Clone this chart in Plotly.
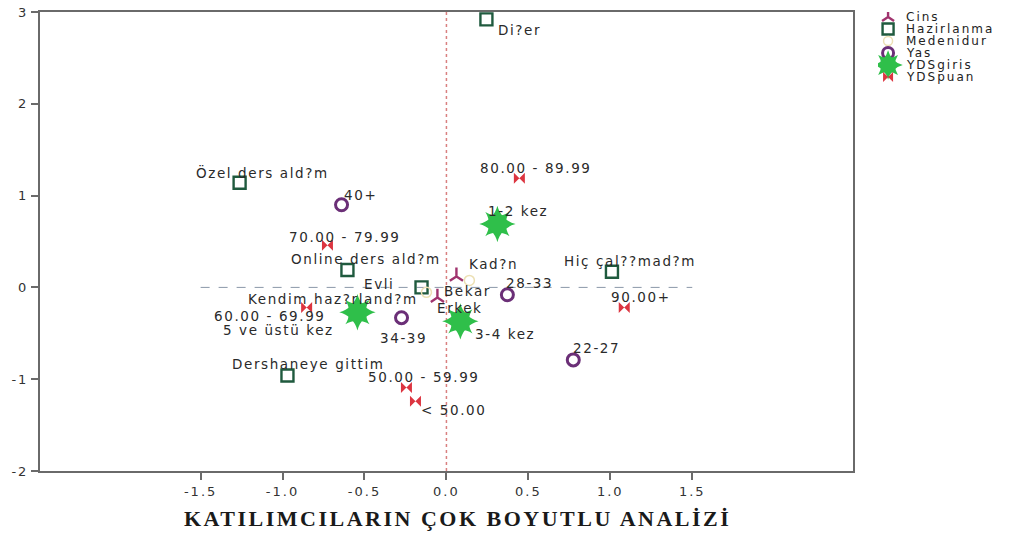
import plotly.graph_objects as go

# ---- data ----
cins_labels = ["Kad?n", "Erkek"]
cins_x = [0.061, -0.055]
cins_y = [0.12, -0.11]

haz_labels = ["Di?er", "Özel ders ald?m", "Online ders ald?m", "Kendim haz?rland?m",
              "Dershaneye gittim", "Hiç çal??mad?m"]
haz_x = [0.244, -1.262, -0.604, -0.152, -0.970, 1.010]
haz_y = [2.92, 1.14, 0.19, 0.0, -0.96, 0.17]

med_labels = ["Evli", "Bekar"]
med_x = [-0.122, 0.140]
med_y = [-0.054, 0.076]

yas_labels = ["40+", "28-33", "34-39", "22-27"]
yas_x = [-0.640, 0.372, -0.274, 0.774]
yas_y = [0.90, -0.08, -0.33, -0.79]

ydsg_labels = ["1-2 kez", "5 ve üstü kez", "3-4 kez"]
ydsg_x = [0.311, -0.543, 0.085]
ydsg_y = [0.69, -0.27, -0.37]

ydsp_labels = ["80.00 - 89.99", "70.00 - 79.99", "60.00 - 69.99", "90.00+",
               "50.00 - 59.99", "< 50.00"]
ydsp_x = [0.445, -0.726, -0.853, 1.085, -0.244, -0.189]
ydsp_y = [1.19, 0.46, -0.22, -0.22, -1.09, -1.24]

legend_names = ["Cins", "Hazirlanma", "Medenidur", "Yas", "YDSgiris", "YDSpuan"]

x_ticks = [-1.5, -1.0, -0.5, 0.0, 0.5, 1.0, 1.5]
x_ticklabels = ["-1.5", "-1.0", "-0.5", "0.0", "0.5", "1.0", "1.5"]
y_ticks = [-2, -1, 0, 1, 2, 3]
y_ticklabels = ["-2", "-1", "0", "1", "2", "3"]

title_text = "KATILIMCILARIN ÇOK BOYUTLU ANALİZİ"

# label placement relative to its point, in pixels: (xshift, yshift, xanchor)
label_offsets = {
    "Di?er": (10, -11, "left"),
    "Özel ders ald?m": (23, 10, "center"),
    "Online ders ald?m": (19, 11, "center"),
    "Kendim haz?rland?m": (-2, -12, "right"),
    "Dershaneye gittim": (21, 12, "center"),
    "Hiç çal??mad?m": (18, 11, "center"),
    "Kad?n": (11, 12, "left"),
    "Erkek": (-2, -10, "left"),
    "Evli": (-30, 8, "right"),
    "Bekar": (-27, -11, "left"),
    "40+": (19, 10, "center"),
    "28-33": (-3, 12, "left"),
    "34-39": (2, -20, "center"),
    "22-27": (23, 12, "center"),
    "1-2 kez": (21, 13, "center"),
    "5 ve üstü kez": (-79, -18, "center"),
    "3-4 kez": (45, -13, "center"),
    "80.00 - 89.99": (17, 10, "center"),
    "70.00 - 79.99": (18, 8, "center"),
    "60.00 - 69.99": (-37, -8, "center"),
    "90.00+": (17, 11, "center"),
    "50.00 - 59.99": (18, 10, "center"),
    "< 50.00": (38, -9, "center"),
}

FONT = "DejaVu Sans"


def spaced(txt, px):
    return '<span style="letter-spacing:%spx">%s</span>' % (px, txt.replace("<", "&lt;"))


sty_cins = dict(symbol="y-up", size=11, color="#a0336e", line=dict(width=2.4, color="#a0336e"))
sty_haz = dict(symbol="square-open", size=12, color="#1f5a3e", line=dict(width=2.4, color="#1f5a3e"))
sty_med = dict(symbol="circle-open", size=10, color="#ece0b4", line=dict(width=1.5, color="#ece0b4"))
sty_yas = dict(symbol="circle-open", size=12, color="#6b2f77", line=dict(width=3, color="#6b2f77"))
sty_star1 = dict(symbol="star-square", size=22, color="#2fbf4a", line=dict(width=0))
sty_star2 = dict(symbol="star-diamond", size=26, color="#2fbf4a", line=dict(width=0))
sty_bow = dict(symbol="bowtie", size=11, color="#dc3540", line=dict(width=0))

fig = go.Figure()
sets = [
    (cins_x, cins_y, cins_labels, [sty_cins]),
    (haz_x, haz_y, haz_labels, [sty_haz]),
    (med_x, med_y, med_labels, [sty_med]),
    (yas_x, yas_y, yas_labels, [sty_yas]),
    (ydsg_x, ydsg_y, ydsg_labels, [sty_star1, sty_star2]),
    (ydsp_x, ydsp_y, ydsp_labels, [sty_bow]),
]
for (xs, ys, labs, stys), name in zip(sets, legend_names):
    for st in stys:
        fig.add_trace(go.Scatter(x=xs, y=ys, mode="markers", name=name, marker=st,
                                 text=labs, hoverinfo="text", showlegend=False,
                                 xaxis="x", yaxis="y"))
    for xv, yv, lab in zip(xs, ys, labs):
        dx, dy, anc = label_offsets.get(lab, (0, 10, "center"))
        fig.add_annotation(x=xv, y=yv, xref="x", yref="y", text=spaced(lab, 1.6),
                           showarrow=False,
                           xshift=dx, yshift=dy, xanchor=anc, yanchor="middle",
                           font=dict(family=FONT, size=13.5, color="#2a2a2a"))

# compact legend drawn on its own small axes (one row per category index)
leg_styles = [[dict(sty_cins, size=10)], [dict(sty_haz, size=11)], [dict(sty_med, size=9)],
              [dict(sty_yas, size=11)],
              [dict(sty_star1, size=18), dict(sty_star2, size=21)], [dict(sty_bow, size=10)]]
for i, (name, stys) in enumerate(zip(legend_names, leg_styles)):
    for st in stys:
        fig.add_trace(go.Scatter(x=[10], y=[i], mode="markers", marker=st,
                                 showlegend=False, hoverinfo="skip",
                                 xaxis="x2", yaxis="y2"))
    fig.add_annotation(x=26, y=i, xref="x2", yref="y2", text=spaced(name, 2), showarrow=False,
                       xanchor="left", yanchor="middle",
                       font=dict(family=FONT, size=12, color="#222"))

# reference lines through the origin
fig.add_shape(type="line", xref="x", yref="y domain", x0=0, x1=0, y0=0, y1=1,
              line=dict(color="#d98080", width=1.5, dash="dot"), layer="below")
fig.add_shape(type="line", xref="x", yref="y", x0=x_ticks[0], x1=x_ticks[-1], y0=0, y1=0,
              line=dict(color="#8a97a8", width=1, dash="dash"), layer="below")

fig.add_annotation(xref="paper", yref="paper", x=0.43, y=-0.103,
                   text="<b>" + spaced(title_text, 2.5) + "</b>",
                   showarrow=False, xanchor="center", yanchor="middle",
                   font=dict(family="Liberation Serif", size=22, color="#1a1a1a"))

axis_common = dict(showgrid=False, zeroline=False,
                   showline=True, linecolor="#6a6a6a", linewidth=2, mirror=True,
                   ticks="outside", ticklen=7, tickcolor="#6a6a6a", tickwidth=2,
                   tickfont=dict(family=FONT, size=13, color="#333"))

fig.update_layout(
    width=1010, height=534,
    margin=dict(l=40, r=0, t=12, b=63, autoexpand=False),
    paper_bgcolor="white", plot_bgcolor="white",
    showlegend=False,
    xaxis=dict(domain=[0, 0.838], range=[-2.48, 2.48], tickvals=x_ticks,
               ticktext=[spaced(t, 2) for t in x_ticklabels], **axis_common),
    yaxis=dict(range=[-2, 3], tickvals=y_ticks,
               ticktext=[spaced(t, 2) for t in y_ticklabels], **axis_common),
    xaxis2=dict(domain=[0.864, 1.0], range=[0, 132], visible=False, anchor="y2"),
    yaxis2=dict(domain=[0, 1], range=[37.83, -0.4167], visible=False, anchor="x2"),
)

fig.write_html("out.html", config={"displayModeBar": False},
               post_script="document.body.style.margin='0px';document.body.style.overflow='hidden';")
